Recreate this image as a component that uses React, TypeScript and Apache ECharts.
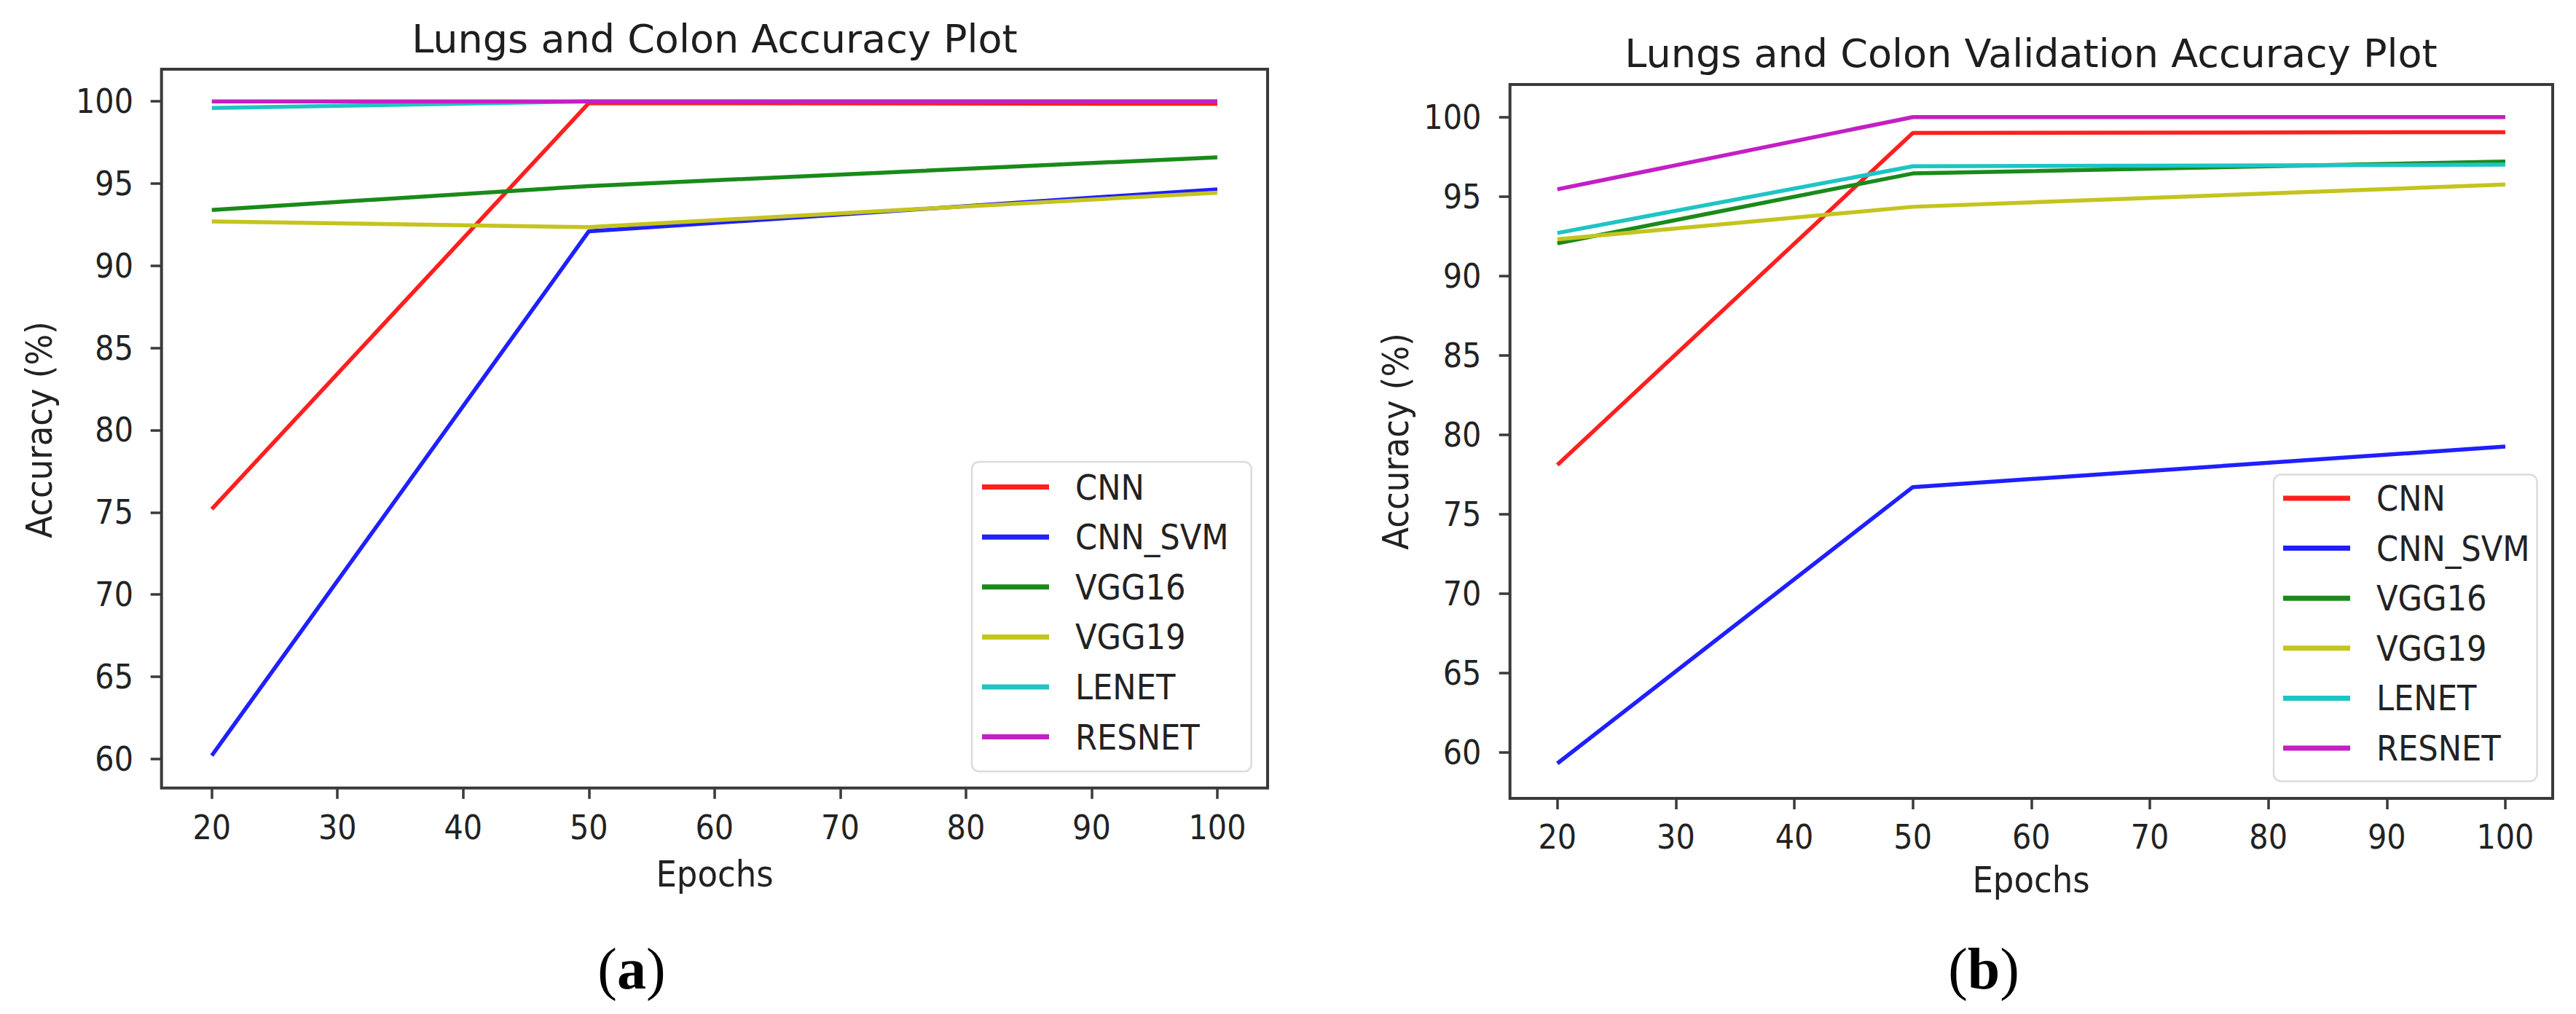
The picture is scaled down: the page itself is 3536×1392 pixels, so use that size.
import React, { useEffect, useRef } from 'react';
import * as echarts from 'echarts';

// ---- data ----
const epochs = [20, 50, 100];
const seriesNames = ['CNN', 'CNN_SVM', 'VGG16', 'VGG19', 'LENET', 'RESNET'];
const seriesColors = ['#ff1f1f', '#1f1fff', '#1a8a1a', '#c4c41f', '#1fc4c4', '#c41fc4'];

// (a) training accuracy
const trainCNN = [75.2, 99.9, 99.85];
const trainCNNSVM = [60.2, 92.1, 94.65];
const trainVGG16 = [93.4, 94.85, 96.6];
const trainVGG19 = [92.7, 92.35, 94.45];
const trainLENET = [99.6, 100, 100];
const trainRESNET = [100, 100, 100];

// (b) validation accuracy
const valCNN = [78.1, 99.0, 99.05];
const valCNNSVM = [59.3, 76.7, 79.25];
const valVGG16 = [92.05, 96.45, 97.2];
const valVGG19 = [92.3, 94.35, 95.75];
const valLENET = [92.7, 96.9, 97.0];
const valRESNET = [95.45, 100, 100];

const xTicks = [20, 30, 40, 50, 60, 70, 80, 90, 100];
const yTicks = [60, 65, 70, 75, 80, 85, 90, 95, 100];

const titles = ['Lungs and Colon Accuracy Plot', 'Lungs and Colon Validation Accuracy Plot'];
const xName = 'Epochs';
const yName = 'Accuracy (%)';
const captions = ['a', 'b'];

const FONT = '"DejaVu Sans", sans-serif';
const FONT_C = '"DejaVu Sans Condensed", "DejaVu Sans", sans-serif';
const SERIF = '"Liberation Serif", "DejaVu Serif", serif';
const SPINE = '#3a3a3a';
const TEXT = '#222';

const trainSets = [trainCNN, trainCNNSVM, trainVGG16, trainVGG19, trainLENET, trainRESNET];
const valSets = [valCNN, valCNNSVM, valVGG16, valVGG19, valLENET, valRESNET];

const grids = [
  { left: 221.7, top: 95, width: 1518.3, height: 986.7 },
  { left: 2072.7, top: 116, width: 1431.3, height: 980 },
];
const yRanges = [
  [58.23, 101.96],
  [57.1, 102.05],
];

function makeAxisX(i: number) {
  return {
    type: 'value',
    gridIndex: i,
    min: 16,
    max: 104,
    axisLine: { show: false },
    axisTick: {
      show: true,
      inside: false,
      length: 15,
      customValues: xTicks,
      lineStyle: { color: SPINE, width: 3.5 },
    },
    axisLabel: {
      customValues: xTicks,
      margin: i === 0 ? 31 : 30,
      fontSize: 46,
      color: TEXT,
      fontFamily: FONT_C,
    },
    splitLine: { show: false },
  };
}

function makeAxisY(i: number) {
  return {
    type: 'value',
    gridIndex: i,
    min: yRanges[i][0],
    max: yRanges[i][1],
    axisLine: { show: false },
    axisTick: {
      show: true,
      inside: false,
      length: 15,
      customValues: yTicks,
      lineStyle: { color: SPINE, width: 3.5 },
    },
    axisLabel: {
      customValues: yTicks,
      margin: i === 0 ? 38.7 : 39.4,
      fontSize: 46,
      color: TEXT,
      fontFamily: FONT_C,
    },
    splitLine: { show: false },
  };
}

function makeSeries(sets: number[][], i: number) {
  return sets.map((vals, k) => ({
    type: 'line',
    name: seriesNames[k],
    xAxisIndex: i,
    yAxisIndex: i,
    data: epochs.map((e, j) => [e, vals[j]]),
    showSymbol: false,
    symbol: 'none',
    color: seriesColors[k],
    lineStyle: { color: seriesColors[k], width: 5.5 },
    emphasis: { disabled: true },
    silent: true,
  }));
}

function makeLegend(left: number, top: number) {
  return {
    orient: 'vertical',
    left,
    top,
    padding: 0,
    itemWidth: 92,
    itemHeight: 7,
    itemGap: 18.6,
    icon: 'rect',
    selectedMode: false,
    z: 20,
    data: seriesNames,
    textStyle: {
      fontSize: 48,
      lineHeight: 50,
      color: TEXT,
      fontFamily: FONT_C,
      padding: [0, 0, 0, 31],
    },
  };
}

export default function App() {
  const ref = useRef<HTMLDivElement>(null);

  useEffect(() => {
    if (!ref.current) return;
    const chart = echarts.init(ref.current, null, { renderer: 'svg' });

    const graphic: any[] = [
      // legend boxes
      {
        type: 'rect', z: 10,
        shape: { x: 1334, y: 634, width: 383.7, height: 425, r: 10 },
        style: { fill: 'rgba(255,255,255,0.8)', stroke: '#dcdcdc', lineWidth: 2.5 },
      },
      {
        type: 'rect', z: 10,
        shape: { x: 3121, y: 651.5, width: 361.5, height: 421, r: 10 },
        style: { fill: 'rgba(255,255,255,0.8)', stroke: '#dcdcdc', lineWidth: 2.5 },
      },
      // titles
      {
        type: 'text', x: 981, y: 53,
        style: { text: titles[0], fontSize: 54, fontFamily: FONT, fill: '#1e1e1e', align: 'center', verticalAlign: 'middle' },
      },
      {
        type: 'text', x: 2788, y: 73,
        style: { text: titles[1], fontSize: 54, fontFamily: FONT, fill: '#1e1e1e', align: 'center', verticalAlign: 'middle' },
      },
      // axis names
      {
        type: 'text', x: 981, y: 1200,
        style: { text: xName, fontSize: 50, fontFamily: FONT_C, fill: TEXT, align: 'center', verticalAlign: 'middle' },
      },
      {
        type: 'text', x: 2788, y: 1208,
        style: { text: xName, fontSize: 50, fontFamily: FONT_C, fill: TEXT, align: 'center', verticalAlign: 'middle' },
      },
      {
        type: 'text', x: 54, y: 590, rotation: Math.PI / 2,
        style: { text: yName, fontSize: 50, fontFamily: FONT_C, fill: TEXT, align: 'center', verticalAlign: 'middle' },
      },
      {
        type: 'text', x: 1916, y: 606, rotation: Math.PI / 2,
        style: { text: yName, fontSize: 50, fontFamily: FONT_C, fill: TEXT, align: 'center', verticalAlign: 'middle' },
      },
      // captions
      ...[867, 2723].map((cx, i) => ({
        type: 'text', x: cx, y: 1330,
        style: {
          text: `{p|(}{b|${captions[i]}}{p|)}`,
          align: 'center',
          verticalAlign: 'middle',
          rich: {
            p: { fontSize: 80, fontFamily: SERIF, fill: '#000' },
            b: { fontSize: 80, fontFamily: SERIF, fontWeight: 'bold', fill: '#000' },
          },
        },
      })),
    ];

    chart.setOption({
      animation: false,
      backgroundColor: '#ffffff',
      grid: grids.map((g) => ({
        ...g,
        show: true,
        borderColor: SPINE,
        borderWidth: 4,
        backgroundColor: 'transparent',
        containLabel: false,
      })),
      xAxis: [makeAxisX(0), makeAxisX(1)],
      yAxis: [makeAxisY(0), makeAxisY(1)],
      legend: [makeLegend(1348, 643.6), makeLegend(3134, 659)],
      graphic,
      series: [...makeSeries(trainSets, 0), ...makeSeries(valSets, 1)],
    });

    return () => chart.dispose();
  }, []);

  return (
    <div
      ref={ref}
      style={{ position: 'absolute', left: 0, top: 0, width: 3536, height: 1392, background: '#fff' }}
    />
  );
}
